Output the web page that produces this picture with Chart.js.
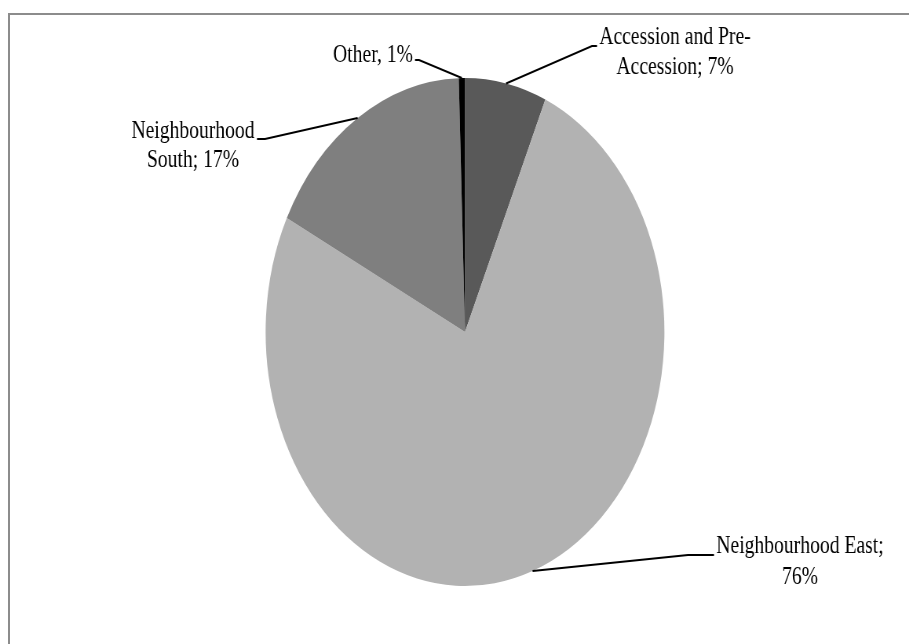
<!DOCTYPE html>
<html>
<head>
<meta charset="utf-8">
<script src="https://cdn.jsdelivr.net/npm/chart.js@4.4.1/dist/chart.umd.min.js"></script>
<style>
  html, body { margin: 0; padding: 0; background: #fff; overflow: hidden; }
  #wrap { position: relative; width: 909px; height: 644px; }
  #pie { position: absolute; left: 0; top: 0; transform: scaleX(0.785); transform-origin: 0 0; }
  #frame {
    position: absolute; left: 8px; top: 13px; width: 920px; height: 660px;
    border-top: 2px solid #8c8c8c; border-left: 2px solid #8c8c8c;
    pointer-events: none;
  }
</style>
</head>
<body>
<div id="wrap">
  <canvas id="pie" width="1158" height="644"></canvas>
  <div id="frame"></div>
</div>
<script>
// data (percent of total)
const categories = ['Accession and Pre-Accession', 'Neighbourhood East', 'Neighbourhood South', 'Other'];
const shares = [6.6, 75.8, 17.1, 0.5];
const sliceColors = ['#595959', '#b2b2b2', '#7f7f7f', '#000000'];

// the picture is squeezed sideways, so draw wide and squash with css
const SQ = 0.785;

// label boxes, in page pixels: text lines, centre x, baselines, leader elbow + end
const labelLayout = [
  { lines: ['Accession and Pre-', 'Accession; {p}%'], cx: 675, base: [44, 74], elbow: [592, 46], end: [597, 46] },
  { lines: ['Neighbourhood East;', '{p}%'], cx: 800, base: [553, 584], elbow: [688, 555], end: [714, 555] },
  { lines: ['Neighbourhood', 'South; {p}%'], cx: 193, base: [138, 167], elbow: [265, 139], end: [257, 139] },
  { lines: ['Other, {p}%'], cx: 373, base: [62], elbow: [419, 60], end: [415, 60] }
];

const leaderLabels = {
  id: 'leaderLabels',
  afterDraw(chart) {
    const ctx = chart.ctx;
    const arcs = chart.getDatasetMeta(0).data;
    ctx.save();
    arcs.forEach((arc, i) => {
      const { x, y, startAngle, endAngle, outerRadius } =
        arc.getProps(['x', 'y', 'startAngle', 'endAngle', 'outerRadius'], true);
      const mid = (startAngle + endAngle) / 2;
      const px = x + Math.cos(mid) * outerRadius;
      const py = y + Math.sin(mid) * outerRadius;
      const lay = labelLayout[i];

      ctx.strokeStyle = '#000';
      ctx.lineWidth = 2;
      ctx.beginPath();
      ctx.moveTo(px, py);
      ctx.lineTo(lay.elbow[0] / SQ, lay.elbow[1]);
      ctx.lineTo(lay.end[0] / SQ, lay.end[1]);
      ctx.stroke();

      const pct = Math.round(shares[i]);
      ctx.fillStyle = '#000';
      ctx.font = '25px "Liberation Serif", "Times New Roman", serif';
      ctx.textAlign = 'center';
      ctx.textBaseline = 'alphabetic';
      lay.lines.forEach((t, k) => {
        ctx.fillText(t.replace('{p}', pct), lay.cx / SQ, lay.base[k]);
      });
    });
    ctx.restore();
  }
};

// pie centre (465,332) on the page, radius 254 up/down
const cxPage = 465, cyPage = 332, rad = 254;
const W = 1158, H = 644;
const cxC = cxPage / SQ;

new Chart(document.getElementById('pie'), {
  type: 'pie',
  data: {
    labels: categories,
    datasets: [{
      data: shares,
      backgroundColor: sliceColors,
      borderWidth: 0,
      offset: 0,
      hoverOffset: 0
    }]
  },
  options: {
    responsive: false,
    animation: false,
    events: [],
    layout: {
      padding: {
        left: cxC - rad,
        right: W - (cxC + rad),
        top: cyPage - rad,
        bottom: H - (cyPage + rad)
      }
    },
    plugins: {
      legend: { display: false },
      tooltip: { enabled: false }
    }
  },
  plugins: [leaderLabels]
});
</script>
</body>
</html>
